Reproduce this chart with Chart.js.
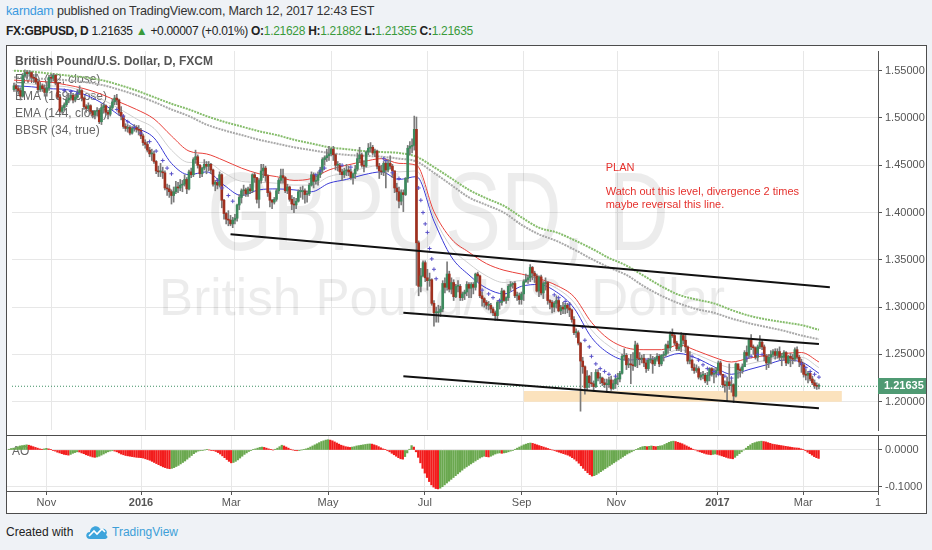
<!DOCTYPE html>
<html>
<head>
<meta charset="utf-8">
<script src="https://cdn.jsdelivr.net/npm/chart.js@4.4.1/dist/chart.umd.min.js"></script>
<style>
html, body { margin: 0; padding: 0; width: 932px; height: 550px; overflow: hidden; background: #eff2f6; font-family: 'Liberation Sans', Arial, sans-serif; }
.hdr { position: absolute; left: 6px; white-space: nowrap; color: #333; }
#h1 { top: 4px; font-size: 12.6px; letter-spacing: -0.2px; }
#h2 { top: 24px; font-size: 12px; color: #222; letter-spacing: -0.3px; }
#h1 .user { color: #3a9ae0; }
#h2 b { font-weight: bold; }
#h2 .g { color: #3a9a3a; }
#frame { position: absolute; left: 6px; top: 45px; width: 921px; height: 469px; box-sizing: border-box; border: 1px solid #4d4d4d; background: #fff; }
#sep { position: absolute; left: 6px; top: 435px; width: 921px; height: 1px; background: #4d4d4d; }
#mainC { position: absolute; left: 7px; top: 46px; }
#aoC { position: absolute; left: 7px; top: 436px; }
#foot { position: absolute; left: 6px; top: 525px; font-size: 12px; color: #222; white-space: nowrap; }
#foot svg { position: absolute; left: 78px; top: -3px; }
#foot .tv { position: absolute; left: 106px; top: 0; color: #3d9fd8; font-size: 12px; }
</style>
</head>
<body>
<div class="hdr" id="h1"><span class="user">karndam</span> published on TradingView.com, March 12, 2017 12:43 EST</div>
<div class="hdr" id="h2"><b>FX:GBPUSD, D</b> 1.21635 <span class="g">&#9650;</span> +0.00007 (+0.01%) <b>O:</b><span class="g">1.21628</span> <b>H:</b><span class="g">1.21882</span> <b>L:</b><span class="g">1.21355</span> <b>C:</b><span class="g">1.21635</span></div>
<div id="frame"></div>
<canvas id="mainC" width="919" height="389"></canvas>
<div id="sep"></div>
<canvas id="aoC" width="919" height="76"></canvas>
<div id="foot">Created with
  <svg width="26" height="20" viewBox="0 0 26 20"><path d="M6 17 C1 17 1 10 6 10 C6 4 14 2 16 7 C20 5 25 9 22 13 C25 15 23 17 20 17 Z" fill="#3da4dc"/><polyline points="5,14 10,9 13,12 18,7 21,10" fill="none" stroke="#fff" stroke-width="1.6"/></svg>
  <span class="tv">TradingView</span></div>

<script>
// daily GBPUSD bars, Oct 8 2015 .. Mar 10 2017 (index = trading day)
const firstOpen = 1.530;
const closes = [
  1.534,1.531,1.529,1.523,1.545,1.548,1.547,1.548,1.543,1.542,
  1.538,1.530,1.534,1.531,1.527,1.532,1.543,1.542,1.545,1.537,
  1.522,1.507,1.511,1.514,1.519,1.521,1.524,1.519,1.522,1.527,
  1.529,1.521,1.512,1.510,1.513,1.507,1.503,1.507,1.508,1.496,
  1.511,1.513,1.506,1.504,1.511,1.517,1.521,1.519,1.506,1.502,
  1.491,1.489,1.490,1.484,1.489,1.490,1.488,1.487,1.481,1.474,
  1.472,1.466,1.462,1.462,1.454,1.444,1.443,1.443,1.442,1.426,
  1.425,1.422,1.418,1.422,1.427,1.426,1.429,1.430,1.435,1.425,
  1.443,1.440,1.456,1.459,1.450,1.441,1.447,1.451,1.449,1.451,
  1.445,1.430,1.432,1.429,1.440,1.413,1.399,1.393,1.392,1.388,
  1.392,1.394,1.408,1.416,1.423,1.424,1.420,1.425,1.423,1.440,
  1.437,1.414,1.434,1.444,1.447,1.439,1.421,1.413,1.411,1.414,
  1.423,1.434,1.439,1.437,1.423,1.427,1.414,1.409,1.408,1.412,
  1.422,1.422,1.423,1.419,1.420,1.429,1.440,1.433,1.434,1.440,
  1.445,1.456,1.458,1.460,1.462,1.467,1.461,1.450,1.450,1.443,
  1.440,1.444,1.445,1.443,1.437,1.441,1.446,1.457,1.461,1.450,
  1.449,1.464,1.468,1.469,1.463,1.465,1.449,1.444,1.443,1.452,
  1.445,1.452,1.449,1.444,1.426,1.422,1.412,1.421,1.419,1.436,
  1.468,1.470,1.471,1.488,1.368,1.322,1.333,1.347,1.331,1.328,
  1.329,1.304,1.294,1.294,1.295,1.298,1.325,1.321,1.335,1.319,
  1.326,1.311,1.322,1.322,1.310,1.314,1.316,1.324,1.320,1.324,
  1.321,1.335,1.333,1.312,1.309,1.305,1.302,1.302,1.298,1.294,
  1.291,1.305,1.305,1.317,1.307,1.310,1.322,1.324,1.325,1.312,
  1.312,1.308,1.314,1.327,1.329,1.331,1.342,1.336,1.333,1.317,
  1.332,1.315,1.325,1.326,1.307,1.305,1.300,1.304,1.307,1.296,
  1.300,1.298,1.302,1.299,1.297,1.287,1.273,1.273,1.262,1.243,
  1.237,1.215,1.227,1.220,1.219,1.216,1.231,1.225,1.225,1.220,
  1.218,1.218,1.223,1.214,1.219,1.224,1.224,1.230,1.248,1.249,
  1.239,1.240,1.239,1.238,1.260,1.246,1.245,1.246,1.241,1.235,
  1.244,1.244,1.240,1.245,1.248,1.240,1.249,1.250,1.260,1.257,
  1.271,1.270,1.262,1.256,1.258,1.270,1.265,1.258,1.243,1.244,
  1.236,1.233,1.235,1.226,1.228,1.228,1.222,1.228,1.235,1.229,
  1.230,1.233,1.241,1.229,1.218,1.217,1.221,1.217,1.218,1.206,
  1.240,1.234,1.233,1.237,1.252,1.249,1.265,1.258,1.257,1.247,
  1.258,1.263,1.258,1.248,1.241,1.247,1.250,1.253,1.249,1.253,
  1.247,1.247,1.252,1.241,1.248,1.246,1.245,1.255,1.247,1.242,
  1.239,1.229,1.228,1.230,1.224,1.220,1.217,1.21628,1.21635
];
const highs = [
  1.537,1.536,1.534,1.532,1.547,1.551,1.550,1.550,1.549,1.546,
  1.547,1.540,1.537,1.536,1.535,1.538,1.545,1.546,1.547,1.546,
  1.538,1.525,1.513,1.516,1.522,1.526,1.528,1.526,1.525,1.530,
  1.534,1.530,1.522,1.514,1.516,1.514,1.508,1.508,1.511,1.510,
  1.515,1.516,1.514,1.508,1.513,1.520,1.524,1.525,1.520,1.512,
  1.503,1.494,1.493,1.492,1.491,1.493,1.492,1.492,1.489,1.483,
  1.477,1.475,1.469,1.467,1.465,1.455,1.449,1.452,1.448,1.444,
  1.430,1.429,1.424,1.427,1.433,1.432,1.435,1.434,1.440,1.437,
  1.445,1.447,1.458,1.466,1.461,1.451,1.448,1.456,1.454,1.454,
  1.452,1.446,1.434,1.436,1.443,1.441,1.414,1.400,1.402,1.397,
  1.395,1.398,1.409,1.419,1.425,1.429,1.426,1.427,1.430,1.441,
  1.442,1.437,1.436,1.451,1.451,1.449,1.440,1.423,1.414,1.416,
  1.425,1.436,1.446,1.446,1.438,1.430,1.428,1.418,1.416,1.415,
  1.424,1.427,1.428,1.425,1.423,1.431,1.443,1.442,1.440,1.443,
  1.448,1.458,1.460,1.467,1.470,1.468,1.470,1.462,1.454,1.452,
  1.446,1.447,1.451,1.449,1.446,1.442,1.450,1.463,1.469,1.463,
  1.455,1.465,1.473,1.474,1.471,1.467,1.466,1.452,1.450,1.454,
  1.454,1.456,1.460,1.451,1.444,1.431,1.427,1.424,1.424,1.437,
  1.471,1.475,1.478,1.502,1.501,1.370,1.341,1.349,1.349,1.340,
  1.336,1.330,1.307,1.300,1.302,1.301,1.328,1.331,1.348,1.338,
  1.331,1.329,1.324,1.328,1.324,1.316,1.318,1.327,1.326,1.326,
  1.326,1.336,1.337,1.334,1.316,1.310,1.307,1.306,1.304,1.300,
  1.296,1.307,1.308,1.320,1.318,1.311,1.324,1.327,1.326,1.327,
  1.316,1.315,1.316,1.329,1.335,1.334,1.345,1.343,1.338,1.335,
  1.333,1.334,1.327,1.331,1.327,1.308,1.307,1.306,1.312,1.309,
  1.302,1.305,1.304,1.304,1.305,1.298,1.290,1.277,1.275,1.263,
  1.247,1.238,1.233,1.228,1.231,1.222,1.234,1.234,1.230,1.226,
  1.224,1.224,1.226,1.227,1.223,1.226,1.230,1.232,1.250,1.256,
  1.251,1.246,1.250,1.252,1.264,1.262,1.252,1.249,1.250,1.244,
  1.246,1.250,1.248,1.247,1.251,1.250,1.250,1.253,1.261,1.264,
  1.274,1.277,1.272,1.264,1.261,1.273,1.272,1.271,1.259,1.253,
  1.245,1.240,1.239,1.237,1.231,1.232,1.230,1.231,1.236,1.236,
  1.235,1.236,1.243,1.243,1.229,1.222,1.226,1.240,1.223,1.219,
  1.241,1.240,1.236,1.240,1.254,1.259,1.266,1.271,1.260,1.258,
  1.260,1.270,1.266,1.260,1.250,1.250,1.254,1.255,1.256,1.256,
  1.258,1.251,1.254,1.253,1.249,1.251,1.250,1.257,1.258,1.249,
  1.245,1.241,1.234,1.232,1.232,1.227,1.223,1.220,1.21882
];
const lows = [
  1.528,1.528,1.525,1.519,1.522,1.543,1.542,1.544,1.540,1.538,
  1.536,1.527,1.528,1.528,1.523,1.523,1.529,1.538,1.539,1.535,
  1.520,1.505,1.505,1.508,1.512,1.516,1.519,1.516,1.517,1.521,
  1.525,1.518,1.509,1.506,1.508,1.504,1.500,1.499,1.502,1.494,
  1.493,1.505,1.503,1.499,1.502,1.509,1.514,1.514,1.503,1.498,
  1.489,1.486,1.485,1.482,1.483,1.486,1.485,1.482,1.478,1.471,
  1.468,1.464,1.459,1.455,1.452,1.441,1.438,1.438,1.436,1.424,
  1.418,1.416,1.409,1.411,1.420,1.421,1.423,1.422,1.428,1.420,
  1.424,1.437,1.438,1.452,1.447,1.437,1.438,1.445,1.441,1.444,
  1.441,1.428,1.423,1.425,1.427,1.405,1.393,1.388,1.386,1.386,
  1.384,1.388,1.391,1.403,1.410,1.418,1.417,1.417,1.420,1.421,
  1.432,1.410,1.405,1.431,1.437,1.433,1.417,1.406,1.404,1.409,
  1.412,1.420,1.431,1.431,1.421,1.420,1.412,1.403,1.400,1.404,
  1.411,1.416,1.414,1.410,1.411,1.418,1.428,1.426,1.430,1.429,
  1.437,1.442,1.450,1.454,1.455,1.460,1.455,1.445,1.444,1.440,
  1.434,1.437,1.439,1.439,1.435,1.430,1.436,1.444,1.453,1.448,
  1.443,1.448,1.461,1.464,1.461,1.459,1.446,1.436,1.440,1.439,
  1.426,1.443,1.446,1.437,1.421,1.413,1.405,1.408,1.401,1.418,
  1.432,1.461,1.463,1.466,1.323,1.312,1.316,1.332,1.327,1.318,
  1.322,1.302,1.280,1.284,1.284,1.290,1.295,1.315,1.318,1.316,
  1.314,1.307,1.310,1.316,1.307,1.307,1.308,1.312,1.310,1.310,
  1.314,1.318,1.327,1.310,1.301,1.300,1.298,1.297,1.294,1.291,
  1.286,1.286,1.298,1.302,1.306,1.304,1.307,1.317,1.320,1.310,
  1.307,1.303,1.303,1.307,1.326,1.325,1.327,1.329,1.326,1.316,
  1.311,1.313,1.309,1.318,1.303,1.298,1.294,1.295,1.299,1.295,
  1.292,1.293,1.293,1.294,1.290,1.284,1.271,1.268,1.260,1.190,
  1.230,1.208,1.212,1.215,1.216,1.211,1.215,1.222,1.219,1.217,
  1.215,1.210,1.215,1.212,1.213,1.214,1.218,1.221,1.229,1.244,
  1.234,1.236,1.219,1.233,1.237,1.236,1.239,1.241,1.237,1.231,
  1.233,1.241,1.230,1.238,1.243,1.237,1.238,1.243,1.248,1.251,
  1.254,1.268,1.260,1.254,1.254,1.253,1.261,1.252,1.240,1.240,
  1.233,1.230,1.231,1.224,1.223,1.224,1.220,1.218,1.222,1.227,
  1.220,1.226,1.230,1.228,1.215,1.210,1.200,1.213,1.210,1.199,
  1.205,1.225,1.226,1.230,1.237,1.242,1.246,1.255,1.250,1.245,
  1.243,1.256,1.255,1.243,1.234,1.236,1.240,1.247,1.245,1.246,
  1.244,1.238,1.244,1.238,1.240,1.237,1.240,1.243,1.245,1.237,
  1.231,1.226,1.223,1.220,1.222,1.218,1.214,1.213,1.21355
];
const aoValues = [
  0.002,0.004,0.005,0.006,0.009,0.011,0.012,0.013,0.014,0.013,
  0.011,0.009,0.007,0.005,0.003,0.002,0.003,0.0045,0.003,0.001,
  -0.001,-0.003,-0.006,-0.008,-0.010,-0.012,-0.013,-0.014,-0.012,-0.009,
  -0.007,-0.005,-0.0055,-0.008,-0.010,-0.013,-0.015,-0.017,-0.019,-0.020,
  -0.019,-0.017,-0.014,-0.011,-0.008,-0.005,-0.003,-0.002,-0.003,-0.005,
  -0.008,-0.011,-0.013,-0.015,-0.016,-0.017,-0.018,-0.019,-0.020,-0.0205,
  -0.021,-0.022,-0.024,-0.026,-0.028,-0.031,-0.034,-0.037,-0.040,-0.043,
  -0.046,-0.048,-0.050,-0.051,-0.050,-0.048,-0.045,-0.042,-0.038,-0.034,
  -0.030,-0.025,-0.020,-0.015,-0.010,-0.006,-0.003,-0.002,-0.001,0.000,
  0.001,0.000,-0.001,-0.002,-0.004,-0.007,-0.011,-0.016,-0.021,-0.026,
  -0.031,-0.035,-0.034,-0.031,-0.027,-0.022,-0.017,-0.012,-0.008,-0.004,
  -0.001,0.001,0.003,0.005,0.007,0.008,0.007,0.005,0.003,0.001,
  0.000,0.002,0.005,0.009,0.013,0.011,0.008,0.005,0.002,0.000,
  -0.001,-0.002,-0.001,0.000,0.001,0.003,0.005,0.008,0.011,0.014,
  0.017,0.020,0.023,0.025,0.027,0.028,0.027,0.025,0.022,0.019,
  0.016,0.013,0.011,0.009,0.008,0.007,0.008,0.009,0.011,0.012,
  0.013,0.014,0.015,0.016,0.0165,0.016,0.014,0.012,0.009,0.006,
  0.003,0.001,-0.002,-0.005,-0.009,-0.013,-0.017,-0.021,-0.024,-0.025,
  -0.018,-0.008,0.002,0.012,0.008,-0.005,-0.020,-0.035,-0.050,-0.063,
  -0.075,-0.086,-0.095,-0.101,-0.105,-0.106,-0.104,-0.100,-0.095,-0.090,
  -0.085,-0.080,-0.075,-0.070,-0.065,-0.060,-0.055,-0.050,-0.046,-0.042,
  -0.038,-0.034,-0.030,-0.026,-0.022,-0.019,-0.017,-0.018,-0.019,-0.017,
  -0.014,-0.011,-0.009,-0.008,-0.009,-0.008,-0.007,-0.005,-0.003,-0.001,
  0.002,0.005,0.008,0.011,0.014,0.016,0.018,0.019,0.018,0.016,
  0.014,0.012,0.010,0.008,0.006,0.004,0.002,0.000,-0.002,-0.004,
  -0.006,-0.008,-0.010,-0.012,-0.014,-0.017,-0.021,-0.025,-0.030,-0.036,
  -0.043,-0.050,-0.056,-0.062,-0.067,-0.071,-0.070,-0.067,-0.063,-0.059,
  -0.055,-0.051,-0.047,-0.043,-0.039,-0.035,-0.031,-0.027,-0.023,-0.019,
  -0.015,-0.011,-0.008,-0.005,-0.002,0.001,0.004,0.007,0.009,0.010,
  0.009,0.010,0.011,0.010,0.009,0.010,0.011,0.012,0.015,0.018,
  0.021,0.023,0.024,0.023,0.021,0.019,0.017,0.014,0.011,0.008,
  0.005,0.002,0.000,-0.003,-0.005,-0.007,-0.009,-0.011,-0.012,-0.013,
  -0.012,-0.011,-0.012,-0.014,-0.016,-0.018,-0.020,-0.022,-0.023,-0.024,
  -0.020,-0.015,-0.010,-0.005,0.000,0.005,0.010,0.014,0.018,0.020,
  0.022,0.023,0.024,0.023,0.022,0.020,0.018,0.016,0.015,0.014,
  0.013,0.012,0.011,0.010,0.009,0.008,0.007,0.006,0.0055,0.005,
  0.003,0.001,-0.002,-0.006,-0.010,-0.014,-0.018,-0.021,-0.023
];

// moving averages every 8 bars
const emaIdx = [0,8,16,24,32,40,48,56,64,72,80,88,96,104,112,120,128,136,144,152,160,168,176,184,
  192,200,208,216,224,232,240,248,256,264,272,280,288,296,304,312,320,328,336,344,352,360,368];
const emaGreen = [1.550,1.549,1.547,1.545,1.543,1.540,1.535,1.529,1.522,1.515,1.509,1.502,1.496,1.491,1.486,1.482,
  1.477,1.473,1.469,1.467,1.465,1.464,1.463,1.459,1.448,1.436,1.424,1.415,1.407,1.395,1.384,1.379,1.371,1.362,
  1.352,1.344,1.333,1.322,1.313,1.308,1.304,1.297,1.291,1.287,1.284,1.281,1.276];
const emaGrey = [1.543,1.542,1.541,1.540,1.538,1.535,1.530,1.524,1.517,1.509,1.502,1.493,1.487,1.482,1.477,1.473,
  1.469,1.466,1.463,1.461,1.460,1.459,1.457,1.454,1.442,1.429,1.416,1.408,1.400,1.387,1.377,1.370,1.361,1.351,
  1.342,1.334,1.322,1.312,1.304,1.298,1.294,1.288,1.283,1.279,1.275,1.270,1.266];
const emaRed = [1.540,1.539,1.538,1.535,1.531,1.525,1.517,1.509,1.499,1.481,1.465,1.462,1.455,1.447,1.441,1.438,
  1.434,1.436,1.445,1.450,1.454,1.457,1.452,1.450,1.401,1.372,1.358,1.346,1.339,1.335,1.330,1.323,1.311,1.284,
  1.266,1.257,1.255,1.255,1.260,1.254,1.247,1.242,1.246,1.249,1.251,1.252,1.242];
const emaLight = [1.537,1.536,1.534,1.533,1.528,1.520,1.510,1.499,1.489,1.466,1.453,1.453,1.442,1.433,1.432,1.431,
  1.429,1.429,1.438,1.442,1.447,1.450,1.443,1.444,1.396,1.363,1.346,1.333,1.326,1.328,1.327,1.320,1.305,1.276,
  1.259,1.250,1.250,1.250,1.255,1.250,1.242,1.236,1.240,1.244,1.247,1.247,1.236];
const emaBlue = [1.534,1.533,1.531,1.530,1.525,1.516,1.503,1.490,1.479,1.452,1.440,1.443,1.429,1.418,1.424,1.425,
  1.424,1.422,1.431,1.435,1.440,1.443,1.435,1.438,1.391,1.353,1.334,1.320,1.314,1.322,1.324,1.316,1.299,1.268,
  1.251,1.244,1.245,1.246,1.251,1.246,1.237,1.229,1.234,1.239,1.244,1.242,1.230];

// BBSR crosses that are visible
const bbsrIdx = [23,26,29,47,50,52,55,58,62,65,68,70,72,93,95,98,100,138,140,142,150,154,169,170,173,176,
  185,186,187,188,189,190,191,192,193,214,217,219,222,247,249,252,254,260,261,263,264,266,268,270,272,275,
  310,313,315,317,320,322,325,328,335,337,340,342,360,362,364,366,368];
const bbsrVal = [1.529,1.528,1.526,1.509,1.502,1.496,1.490,1.484,1.475,1.465,1.455,1.447,1.441,1.434,1.426,1.418,1.412,
  1.440,1.444,1.447,1.450,1.448,1.457,1.455,1.442,1.436,1.426,1.413,1.400,1.388,1.379,1.362,1.351,1.340,1.330,
  1.318,1.314,1.310,1.307,1.313,1.310,1.306,1.303,1.279,1.265,1.258,1.248,1.240,1.235,1.232,1.229,1.227,
  1.248,1.244,1.239,1.235,1.232,1.229,1.227,1.225,1.246,1.248,1.250,1.250,1.240,1.236,1.232,1.229,1.226];

// drawn trend lines and the support zone
const trendIdx = [[99, 373], [178, 368], [178, 368]];
const trendVal = [[1.377, 1.321], [1.294, 1.261], [1.227, 1.193]];
const zoneIdx = [233, 378.5];
const zoneVal = [1.2113, 1.200];
const lastPrice = 1.21635;

const tickIdx = [17, 60, 101, 145, 189, 233, 276, 322, 361, 395];
const tickLabels = ['Nov', '2016', 'Mar', 'May', 'Jul', 'Sep', 'Nov', '2017', 'Mar', '1'];
const priceTicks = [1.20, 1.25, 1.30, 1.35, 1.40, 1.45, 1.50, 1.55];
const aoTicks = [0, -0.1];

const legendLines = ['EMA (12, close)', 'EMA (169, close)', 'EMA (144, close)', 'BBSR (34, true)'];
const noteIdx = 270.5;
const notePrices = [1.447, 1.422, 1.408];
const noteTexts = ['PLAN', 'Watch out this level, divergence 2 times', 'maybe reversal this line.'];

const FONT = "'Liberation Sans', Arial, sans-serif";
const UP = '#3d8a5e', DOWN = '#a0301f';
const X_MIN = -0.91, X_MAX = 395;

const opens = closes.map((c, i) => i === 0 ? firstOpen : closes[i - 1]);
const pts = (idx, vals) => idx.map((x, k) => ({ x: x, y: vals[k] }));

const wickData = closes.map((c, i) => ({ x: i, y: [Math.min(lows[i], opens[i], c), Math.max(highs[i], opens[i], c)] }));
const bodyData = closes.map((c, i) => ({ x: i, y: [opens[i], c] }));
const bodyColors = closes.map((c, i) => c >= opens[i] ? UP : DOWN);

function emaSet(vals, color, width, dash, order) {
  return { type: 'line', data: pts(emaIdx, vals), borderColor: color, borderWidth: width, borderDash: dash,
    pointRadius: 0, cubicInterpolationMode: 'monotone', order: order };
}

const trendSets = trendIdx.map((ix, k) => ({ type: 'line', data: pts(ix, trendVal[k]), borderColor: '#111',
  borderWidth: 2, pointRadius: 0, order: 1 }));

const bgText = {
  id: 'bgText',
  beforeDatasetsDraw(chart) {
    const ctx = chart.ctx;
    ctx.save();
    ctx.fillStyle = 'rgba(0,0,0,0.075)';
    ctx.textBaseline = 'alphabetic';
    function fitText(txt, size, x, base, w) {
      ctx.font = size + 'px ' + FONT;
      const m = ctx.measureText(txt).width;
      ctx.save();
      ctx.translate(x, base);
      ctx.scale(w / m, 1);
      ctx.fillText(txt, 0, 0);
      ctx.restore();
    }
    fitText('GBPUSD, D', 112, 200, 204, 462);
    fitText('British Pound/U.S. Dollar', 52, 152, 269, 566);
    ctx.textBaseline = 'middle';
    ctx.fillStyle = '#555';
    ctx.font = 'bold 12px ' + FONT;
    ctx.fillText('British Pound/U.S. Dollar, D, FXCM', 8, 16);
    ctx.font = '12px ' + FONT;
    ctx.fillStyle = '#666';
    legendLines.forEach((t, k) => ctx.fillText(t, 8, 34 + k * 17));
    ctx.restore();
  }
};

const notes = {
  id: 'notes',
  afterDatasetsDraw(chart) {
    const ctx = chart.ctx, xs = chart.scales.x, ys = chart.scales.y;
    ctx.save();
    ctx.font = '11px ' + FONT;
    ctx.fillStyle = '#e5312d';
    ctx.textBaseline = 'middle';
    noteTexts.forEach((t, k) => ctx.fillText(t, xs.getPixelForValue(noteIdx), ys.getPixelForValue(notePrices[k])));
    ctx.restore();
  },
  afterDraw(chart) {
    const ctx = chart.ctx, ys = chart.scales.y, area = chart.chartArea;
    const y = ys.getPixelForValue(lastPrice);
    ctx.save();
    ctx.fillStyle = '#4f9a73';
    ctx.fillRect(area.right, Math.round(y) - 8, 48, 16);
    ctx.fillStyle = '#fff';
    ctx.font = 'bold 11px ' + FONT;
    ctx.textBaseline = 'middle';
    ctx.fillText(lastPrice.toFixed(5), area.right + 6, Math.round(y));
    ctx.restore();
  }
};

const xScaleBase = {
  type: 'linear', min: X_MIN, max: X_MAX, offset: false,
  afterBuildTicks: s => { s.ticks = tickIdx.map(v => ({ value: v })); }
};

new Chart(document.getElementById('mainC'), {
  type: 'bar',
  data: {
    datasets: [
      { type: 'line', data: pts(zoneIdx, [zoneVal[0], zoneVal[0]]), borderWidth: 0, pointRadius: 0,
        backgroundColor: '#fbe2bd', fill: { value: zoneVal[1] }, order: 10 },
      emaSet(emaGreen, '#86bd6c', 2, [2, 1], 9),
      emaSet(emaGrey, '#a9a9a9', 2, [2, 1], 9),
      emaSet(emaLight, '#cfcfcf', 1, [], 8),
      emaSet(emaRed, '#e8403a', 1, [], 8),
      emaSet(emaBlue, '#3a3ad6', 1, [], 8),
      { type: 'line', data: pts([X_MIN, X_MAX], [lastPrice, lastPrice]), borderColor: '#3d8f63', borderWidth: 1,
        borderDash: [1, 2], pointRadius: 0, order: 7 },
      { type: 'bar', data: wickData, backgroundColor: '#7a7a7a', barThickness: 1, grouped: false, order: 6 },
      { type: 'bar', data: bodyData, backgroundColor: bodyColors, barThickness: 2, minBarLength: 1,
        grouped: false, order: 5 },
      { type: 'scatter', data: pts(bbsrIdx, bbsrVal), pointStyle: 'cross', pointRadius: 2, borderWidth: 1,
        borderColor: '#5a52c8', order: 3 },
      ...trendSets
    ]
  },
  options: {
    responsive: false, animation: false, events: [],
    layout: { padding: 0 },
    plugins: { legend: { display: false }, tooltip: { enabled: false } },
    scales: {
      x: Object.assign({}, xScaleBase, {
        grid: { color: '#e7e7e7', drawTicks: false, offset: false },
        border: { display: false },
        ticks: { display: false },
        afterFit: s => { s.height = 0; s.paddingLeft = 0; s.paddingRight = 0; }
      }),
      y: {
        position: 'right', min: 1.1701, max: 1.5708,
        afterBuildTicks: s => { s.ticks = priceTicks.map(v => ({ value: v })); },
        afterFit: s => { s.width = 48; s.paddingTop = 0; s.paddingBottom = 0; },
        grid: { color: '#e7e7e7', tickLength: 4, tickColor: '#555' },
        border: { display: true, color: '#555' },
        ticks: { color: '#555', padding: 3, font: { size: 11, family: FONT }, callback: v => v.toFixed(5) }
      }
    }
  },
  plugins: [bgText, notes]
});

const aoColors = aoValues.map((v, i) => (i === 0 || v >= aoValues[i - 1]) ? '#6aa84f' : '#f21c1c');
const aoLabel = {
  id: 'aoLabel',
  beforeDatasetsDraw(chart) {
    const ctx = chart.ctx;
    ctx.save();
    ctx.font = '12px ' + FONT;
    ctx.fillStyle = '#666';
    ctx.textBaseline = 'middle';
    ctx.fillText('AO', 5, 16);
    ctx.restore();
  }
};

new Chart(document.getElementById('aoC'), {
  type: 'bar',
  data: {
    datasets: [{ data: aoValues.map((v, i) => ({ x: i, y: v })), backgroundColor: aoColors, barThickness: 1.6 }]
  },
  options: {
    responsive: false, animation: false, events: [],
    layout: { padding: 0 },
    plugins: { legend: { display: false }, tooltip: { enabled: false } },
    scales: {
      x: Object.assign({}, xScaleBase, {
        grid: { color: '#e7e7e7', tickLength: 4, tickColor: '#555', offset: false },
        border: { display: true, color: '#555' },
        ticks: {
          autoSkip: false, maxRotation: 0, padding: 1, color: '#555',
          font: c => ({ size: 11, family: FONT, weight: (c.tick && /^\d{4}$/.test(tickLabels[tickIdx.indexOf(c.tick.value)])) ? 'bold' : 'normal' }),
          callback: v => tickLabels[tickIdx.indexOf(v)]
        },
        afterFit: s => { s.height = 21; s.paddingLeft = 0; s.paddingRight = 0; }
      }),
      y: {
        position: 'right', min: -0.1117, max: 0.0381,
        afterBuildTicks: s => { s.ticks = aoTicks.map(v => ({ value: v })); },
        afterFit: s => { s.width = 48; s.paddingTop = 0; s.paddingBottom = 0; },
        grid: { color: '#e7e7e7', tickLength: 4, tickColor: '#555' },
        border: { display: true, color: '#555' },
        ticks: { color: '#555', padding: 3, font: { size: 11, family: FONT }, callback: v => v.toFixed(4) }
      }
    }
  },
  plugins: [aoLabel]
});
</script>
</body>
</html>
